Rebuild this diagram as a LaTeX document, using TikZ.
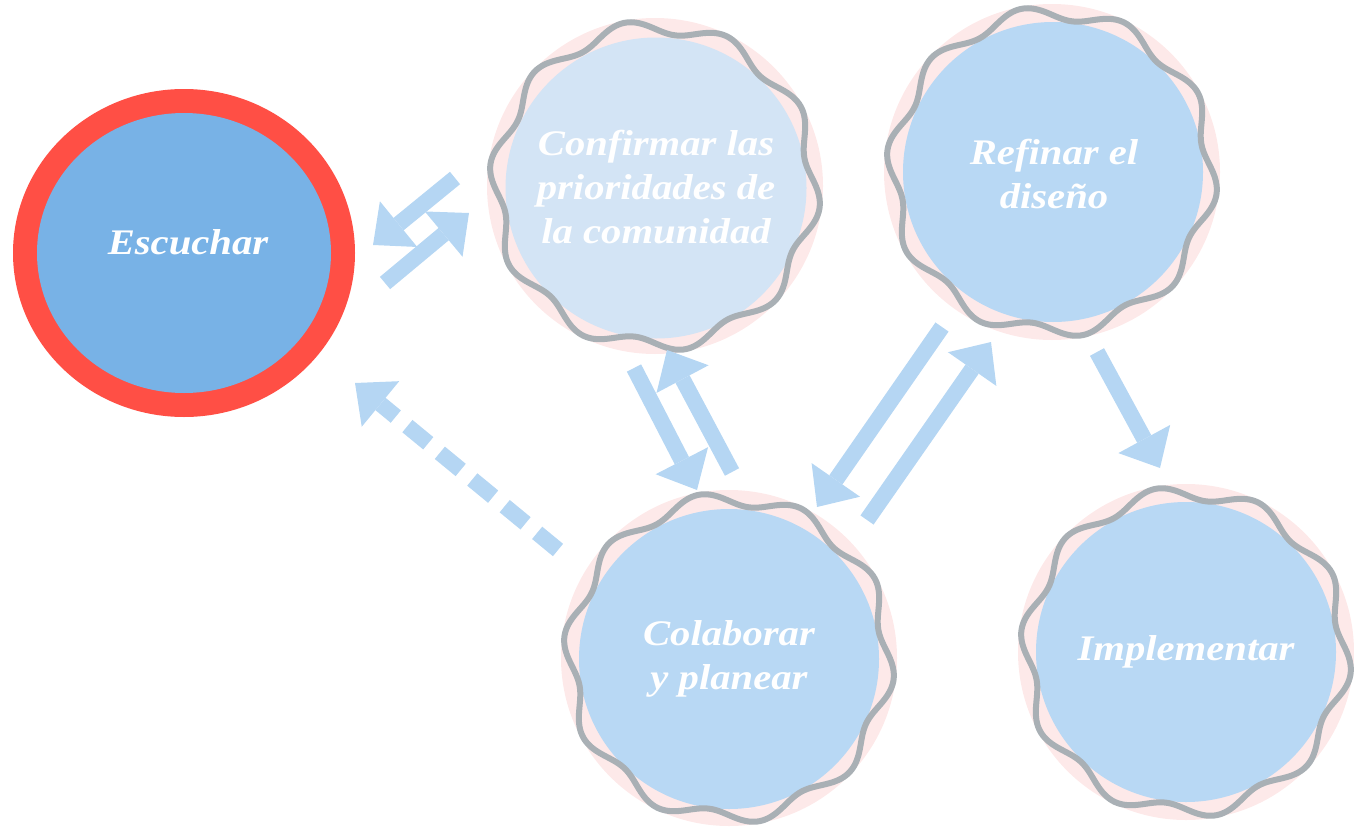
\documentclass[tikz,border=0pt]{standalone}
\usepackage{fontspec}
\newfontfamily\labfont[FakeStretch=1.13]{Liberation Serif}
\usetikzlibrary{arrows.meta,shapes.geometric}
\definecolor{ringred}{HTML}{FF4F45}
\definecolor{escblue}{HTML}{78B2E6}
\definecolor{confblue}{HTML}{D3E4F5}
\definecolor{stageblue}{HTML}{B8D8F4}
\definecolor{pinkbg}{HTML}{FDE9E9}
\definecolor{wavegray}{HTML}{A9B0B5}
\definecolor{arrowblue}{HTML}{B5D6F3}
\tikzset{
  stagetext/.style={text=white, font=\labfont\bfseries\itshape\fontsize{36}{44}\selectfont, align=center, inner sep=0pt},
  stagecircle/.style={circle, fill=stageblue, minimum size=300pt, inner sep=0pt},
  pinkdisc/.style={fill=pinkbg},
  wavyline/.style={draw=wavegray, line width=6pt},
  blockarrow/.style={draw=arrowblue, line width=16pt, -{Triangle[width=59pt, length=33pt, line width=0pt]}},
  dasharrow/.style={blockarrow, dash pattern=on 27pt off 15pt},
}
\newcommand\wavering[2]{%
  \draw[wavyline] plot[domain=0:360, samples=400, smooth cycle, variable=\t]
    ({#1+(159+7*sin(10*\t+15))*cos(\t)}, {#2+(159+7*sin(10*\t+15))*sin(\t)});}
\begin{document}
\begin{tikzpicture}[x=1pt, y=-1pt]
\useasboundingbox (0,0) rectangle (1354,827);
% Escuchar
\fill[ringred] (184,253) ellipse [x radius=171, y radius=164];
\node[ellipse, fill=escblue, minimum width=294pt, minimum height=280pt, inner sep=0pt] (esc) at (184,253) {};
\node[stagetext] (escT) at (188,242) {Escuchar};
% Confirmar
\fill[pinkdisc] (655,186) circle [radius=168];
\node[stagecircle, fill=confblue, minimum size=301pt] (conf) at (656,188) {};
\wavering{655}{186}
\node[stagetext] (confT) at (656,187) {Confirmar las\\prioridades de\\la comunidad};
% Refinar
\fill[pinkdisc] (1052,172) circle [radius=168];
\node[stagecircle] (ref) at (1053,172) {};
\wavering{1052}{172}
\node[stagetext] (refT) at (1054,174) {Refinar el\\diseño};
% Colaborar
\fill[pinkdisc] (729,658) circle [radius=168];
\node[stagecircle] (col) at (729,659) {};
\wavering{729}{658}
\node[stagetext] (colT) at (729,659) {Colaborar\\y planear};
% Implementar
\fill[pinkdisc] (1186,652) circle [radius=168];
\node[stagecircle] (imp) at (1186,652) {};
\wavering{1186}{652}
\node[stagetext] (impT) at (1186,652) {Implementar};
% arrow end points
\coordinate (a1s) at (455,178); \coordinate (a1e) at (373,245);
\coordinate (a2s) at (385,283); \coordinate (a2e) at (469,213);
\coordinate (a3s) at (634,368); \coordinate (a3e) at (697,490);
\coordinate (a4s) at (732,472); \coordinate (a4e) at (667,350);
\coordinate (a5s) at (942,327); \coordinate (a5e) at (817,507);
\coordinate (a6s) at (867,520); \coordinate (a6e) at (991,342);
\coordinate (a7s) at (1097,352); \coordinate (a7e) at (1160,468);
\coordinate (a8s) at (558,550); \coordinate (a8e) at (355,383);
\draw[blockarrow] (a1s) -- (a1e);
\draw[blockarrow] (a2s) -- (a2e);
\draw[blockarrow] (a3s) -- (a3e);
\draw[blockarrow] (a4s) -- (a4e);
\draw[blockarrow] (a5s) -- (a5e);
\draw[blockarrow] (a6s) -- (a6e);
\draw[blockarrow] (a7s) -- (a7e);
\draw[dasharrow] (a8s) -- (a8e);
\end{tikzpicture}
\end{document}
